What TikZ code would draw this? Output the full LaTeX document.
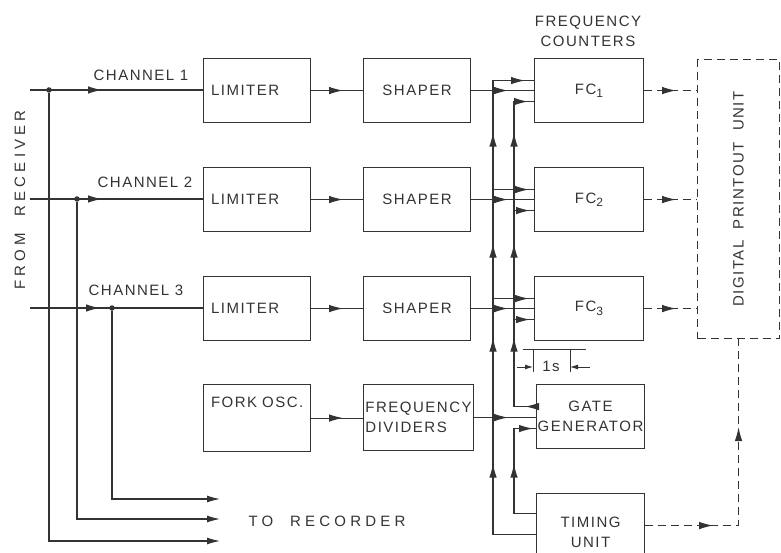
\documentclass[tikz,border=0pt]{standalone}
\usepackage{fontspec}
\newfontfamily\lettering{Liberation Sans}[LetterSpace=10]
\newfontfamily\widelettering{Liberation Sans}[LetterSpace=28]
\usetikzlibrary{arrows.meta,calc,decorations.markings}
\newcommand{\sbs}[1]{\raisebox{-3.5pt}{\fontsize{12}{12}\selectfont #1}}
\tikzset{
  box/.style={draw=black!80,line width=1.1pt,anchor=north west,inner sep=0pt,minimum width=107pt,minimum height=#1},
  box/.default={64pt},
  lim/.style={text width=92pt,inner xsep=7pt,align=left},
  wire/.style={line width=1.1pt,draw=black!80},
  dsh/.style={wire,dash pattern=on 8pt off 5pt},
  midarr/.style={postaction={decorate,decoration={markings,mark=at position #1 with {\arrow{Latex[length=14pt,width=7.5pt]}}}}},
  endarr/.style={-{Latex[length=13pt,width=7pt]}},
  dot/.style={circle,fill=black!80,inner sep=0pt,minimum size=5.5pt},
  lbl/.style={font=\lettering\fontsize{15}{20}\selectfont,text=black!80},
  wide/.style={font=\widelettering\fontsize{15}{20}\selectfont},
}
\begin{document}
\begin{tikzpicture}[x=1pt,y=-1pt,every node/.style={lbl}]
\useasboundingbox (0,0) rectangle (781,553);
\clip (0,0) rectangle (781,553);

\node[box,lim] (lim1) at (203,58) {LIMITER};
\node[box,lim] (lim2) at (203,167) {LIMITER};
\node[box,lim] (lim3) at (203,276) {LIMITER};
\node[box] (shp1) at (363,58) {SHAPER};
\node[box] (shp2) at (363,167) {SHAPER};
\node[box] (shp3) at (363,276) {SHAPER};
\node[box=67pt,lim,inner xsep=5pt] (fork) at (203,384) {FORK OSC.\\[6pt]\strut};
\node[box=66pt,minimum width=110pt,align=left] (fdiv) at (363,384) {FREQUENCY\\DIVIDERS};
\node[box,minimum width=109pt] (fc1) at (534,58) {FC\sbs{1}};
\node[box,minimum width=109pt] (fc2) at (534,167) {FC\sbs{2}};
\node[box,minimum width=109pt] (fc3) at (534,276) {FC\sbs{3}};
\node[box,minimum width=108pt,align=center] (gate) at (536,384) {GATE\\GENERATOR};
\node[box=78pt,minimum width=108pt,align=center] (tu) at (536,493) {TIMING\\UNIT};
\node[dsh,anchor=north west,inner sep=0pt,minimum width=82pt,minimum height=279pt] (dpu) at (697,59) {\rotatebox{90}{DIGITAL\ \ PRINTOUT\ \ UNIT}};

\node[align=center] (fclbl) at (588,31) {FREQUENCY\\COUNTERS};
\node (ch1) at (141,75) {CHANNEL 1};
\node (ch2) at (145,182) {CHANNEL 2};
\node (ch3) at (136,290) {CHANNEL 3};
\node[wide,rotate=90] (from) at (20,200) {FROM\ \ RECEIVER};
\node[wide] (torec) at (327,521) {TO\ \ RECORDER};

% receiver inputs and recorder taps
\coordinate (in1) at (30,90);
\coordinate (in2) at (30,199);
\coordinate (in3) at (30,308);
\node[dot] (d1) at (49,90) {};
\node[dot] (d2) at (77,199) {};
\node[dot] (d3) at (112,308) {};
\coordinate (rec1) at (220,541);
\coordinate (rec2) at (220,519);
\coordinate (rec3) at (220,499);
\draw[wire,midarr=72pt] (in1) -- (in1 -| lim1.west);
\draw[wire,midarr=72pt] (in2) -- (in2 -| lim2.west);
\draw[wire,midarr=70pt] (in3) -- (in3 -| lim3.west);
\draw[wire,endarr] (d1) |- (rec1);
\draw[wire,endarr] (d2) |- (rec2);
\draw[wire,endarr] (d3) |- (rec3);

\draw[wire,midarr=32pt] (lim1.east) -- (shp1.west);
\draw[wire,midarr=32pt] (lim2.east) -- (shp2.west);
\draw[wire,midarr=32pt] (lim3.east) -- (shp3.west);
\draw[wire,midarr=32pt] (fork.east) -- (fork.east -| fdiv.west);
\draw[wire,midarr=37pt] (shp1.east) -- (shp1.east -| fc1.west);
\draw[wire,midarr=37pt] (shp2.east) -- (shp2.east -| fc2.west);
\draw[wire,midarr=37pt] (shp3.east) -- (shp3.east -| fc3.west);
\draw[wire,midarr=34pt] (fdiv.east) -- (fdiv.east -| gate.west);

% gate and timing buses
\coordinate (busA) at (493,0);
\coordinate (busB) at (514,0);
\foreach \n in {1,2,3}{
  \coordinate (fc\n a) at ($(fc\n.west)+(0,-10)$);
  \coordinate (fc\n b) at ($(fc\n.west)+(0,11)$);
}
\coordinate (tuA) at ($(tu.west)+(0,2)$);
\coordinate (tuB) at ($(tu.west)+(0,-19)$);
\coordinate (tuD) at ($(tu.east)+(0,-7)$);
\coordinate (gtO) at ($(gate.west)+(0,-10)$);
\coordinate (gtI) at ($(gate.west)+(0,12)$);
\draw[wire,midarr=114pt,midarr=240pt,midarr=334pt,midarr=445pt,midarr=529pt] (tuA) -- (tuA -| busA) -- (fc1a -| busA) -- (fc1a);
\draw[wire,midarr=11pt,midarr=91pt,midarr=185pt,midarr=296pt,midarr=341pt] (gtO) -- (gtO -| busB) -- (fc1b -| busB) -- (fc1b);
\draw[wire,midarr=72pt,midarr=126pt] (tuB) -- (tuB -| busB) -- (gtI -| busB) -- (gtI);
\draw[wire,midarr=36pt] (fc2a -| busA) -- (fc2a);
\draw[wire,midarr=36pt] (fc3a -| busA) -- (fc3a);
\draw[wire,midarr=16pt] (fc2b -| busB) -- (fc2b);
\draw[wire,midarr=16pt] (fc3b -| busB) -- (fc3b);

% gate width
\draw[wire,line width=0.9pt] (523,349) -- (586,349);
\draw[wire,line width=0.9pt] (533,349) -- (533,372);
\draw[wire,line width=0.9pt] (570,349) -- (570,372);
\draw[wire,line width=0.9pt,-{Latex[length=8pt,width=5pt]}] (517,367) -- (533,367);
\draw[wire,line width=0.9pt,-{Latex[length=8pt,width=5pt]}] (590,367) -- (570,367);
\node (onesec) at (551,366) {1s};

% printout
\draw[dsh,midarr=32pt] (fc1.east) -- (fc1.east -| dpu.west);
\draw[dsh,midarr=32pt] (fc2.east) -- (fc2.east -| dpu.west);
\draw[dsh,midarr=32pt] (fc3.east) -- (fc3.east -| dpu.west);
\draw[dsh,midarr=68pt,midarr=192pt] (tuD) -| (dpu.south);
\end{tikzpicture}
\end{document}
